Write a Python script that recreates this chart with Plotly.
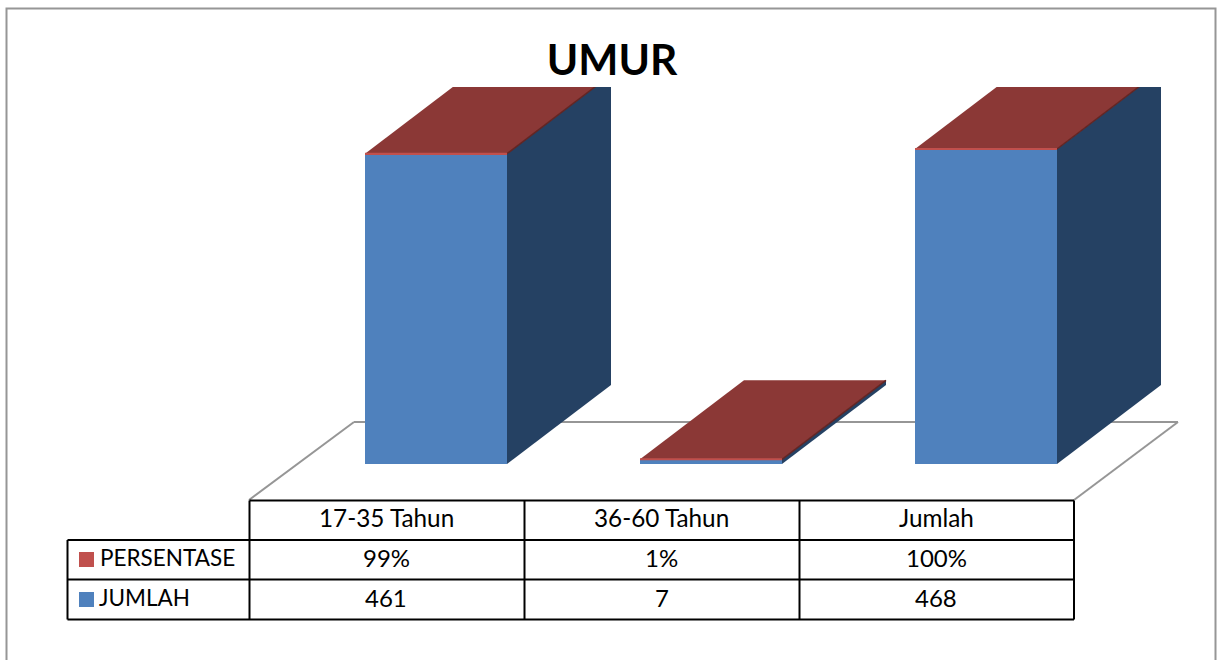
import plotly.graph_objects as go

# ---- data ----
categories = ["17-35 Tahun", "36-60 Tahun", "Jumlah"]
jumlah = [461, 7, 468]
persentase = [0.99, 0.01, 1.00]
title_text = "UMUR"
series_names = ["PERSENTASE", "JUMLAH"]

# ---- geometry of the canvas (pixels) ----
W, H = 1218, 660
X_FIRST, X_STEP = 436, 275      # centre of first category, category spacing
Y_ZERO, Y_UNIT = 464, 315 / 469 # pixel of value 0, pixels per value unit
PLOT_TOP, PLOT_BOTTOM = 87, 500
BAR_PX = 142
DEPTH_X_PX, DEPTH_Y_PX = 104, 79

BLUE, BLUE_SIDE = "#4F81BD", "#254163"
RED, RED_TOP, RED_EDGE = "#C0504D", "#8B3836", "#632523"
GREY = "#969696"
FONT = "Lato, Carlito, Calibri, sans-serif"

# derived scale helpers
half = BAR_PX / 2 / X_STEP
dx = DEPTH_X_PX / X_STEP
dy = DEPTH_Y_PX / Y_UNIT
px = lambda v: v / W
py = lambda v: 1 - v / H

fig = go.Figure()

# front faces, through the library's stacked bars
fig.add_bar(x=[0, 1, 2], y=jumlah, width=BAR_PX / X_STEP, marker_color=BLUE,
            marker_line_width=0, name=series_names[1], showlegend=False)
fig.add_bar(x=[0, 1, 2], y=persentase, width=BAR_PX / X_STEP, marker_color=RED,
            marker_line_width=0, name=series_names[0], showlegend=False)

# side and top faces, computed from the same values
for i, (j, p) in enumerate(zip(jumlah, persentase)):
    t = j + p
    l, r = i - half, i + half
    fig.add_scatter(x=[r, r + dx, r + dx, r, r], y=[0, dy, t + dy, t, 0],
                    mode="lines", fill="toself", fillcolor=BLUE_SIDE,
                    line=dict(width=0, color=BLUE_SIDE), hoverinfo="skip", showlegend=False)
    fig.add_scatter(x=[l, r, r + dx, l + dx, l], y=[t, t, t + dy, t + dy, t],
                    mode="lines", fill="toself", fillcolor=RED_TOP,
                    line=dict(width=0, color=RED_TOP), hoverinfo="skip", showlegend=False)
    fig.add_scatter(x=[r, r + dx], y=[t, t + dy], mode="lines",
                    line=dict(width=1.5, color=RED_EDGE), hoverinfo="skip", showlegend=False)
    fig.add_scatter(x=[l, r], y=[t, t], mode="lines",
                    line=dict(width=2, color=RED), hoverinfo="skip", showlegend=False)

shapes = []
annotations = []

def seg(x0, y0, x1, y1, color="#000000", width=2, layer="above"):
    shapes.append(dict(type="line", xref="paper", yref="paper",
                       x0=px(x0), y0=py(y0), x1=px(x1), y1=py(y1),
                       line=dict(color=color, width=width), layer=layer))

# outer chart border
shapes.append(dict(type="rect", xref="paper", yref="paper",
                   x0=px(6.5), y0=py(8.5), x1=px(1215.5), y1=py(675),
                   line=dict(color=GREY, width=2), fillcolor="rgba(0,0,0,0)", layer="below"))

# floor
seg(249, 500, 354, 422, GREY, 2, "below")
seg(354, 422, 1178, 422, GREY, 2, "below")
seg(1178, 422, 1074, 500, GREY, 2, "below")

# data table
COLS = [249.5, 524.5, 799.5, 1074]
ROWS = [500.5, 540, 579.5, 619.5]
LEFT = 67.5
seg(COLS[0], ROWS[0], COLS[-1], ROWS[0])
seg(LEFT, ROWS[1], COLS[-1], ROWS[1])
seg(LEFT, ROWS[2], COLS[-1], ROWS[2])
seg(LEFT, ROWS[3], COLS[-1], ROWS[3])
seg(LEFT, ROWS[1], LEFT, ROWS[3])
for c in COLS:
    seg(c, ROWS[0], c, ROWS[3])

def text(x, y, s, anchor="center", size=24):
    annotations.append(dict(xref="paper", yref="paper", x=px(x), y=py(y), text=s,
                            showarrow=False, xanchor=anchor, yanchor="middle",
                            font=dict(family=FONT, size=size, color="#000000")))

pct = [f"{round(v * 100)}%" for v in persentase]
for i in range(3):
    cx = (COLS[i] + COLS[i + 1]) / 2
    text(cx - 0.5, 517, categories[i], size=24.3)
    text(cx - 0.5, 557, pct[i], size=24)
    text(cx - 0.5, 597, str(jumlah[i]), size=24)

text(98, 557, series_names[0], "left", size=22.5)
text(97, 597, series_names[1], "left", size=22.5)
for yy, col in ((552, RED), (592, BLUE)):
    shapes.append(dict(type="rect", xref="paper", yref="paper",
                       x0=px(79), y0=py(yy), x1=px(94), y1=py(yy + 15),
                       line_width=0, fillcolor=col))

fig.update_layout(
    width=W, height=H, barmode="stack", bargap=0,
    margin=dict(l=0, r=0, t=0, b=0),
    paper_bgcolor="#FFFFFF", plot_bgcolor="rgba(0,0,0,0)",
    title=dict(text=f"<b>{title_text}</b>", x=612 / W, xanchor="center",
               y=py(60), yanchor="middle", yref="container",
               font=dict(family=FONT, size=42.5, color="#000000")),
    xaxis=dict(range=[(0 - X_FIRST) / X_STEP, (W - X_FIRST) / X_STEP], visible=False,
               domain=[0, 1], fixedrange=True),
    yaxis=dict(range=[(Y_ZERO - PLOT_BOTTOM) * 1 / Y_UNIT, (Y_ZERO - PLOT_TOP) / Y_UNIT],
               visible=False, domain=[py(PLOT_BOTTOM), py(PLOT_TOP)], fixedrange=True),
    shapes=shapes, annotations=annotations, showlegend=False,
)

fig.write_html("out.html", config={"displayModeBar": False},
               post_script="document.body.style.margin='0';document.body.style.overflow='hidden';")
